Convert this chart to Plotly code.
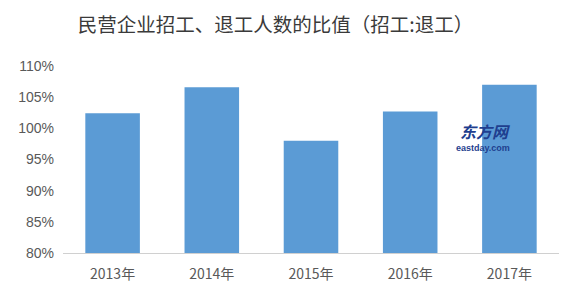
import plotly.graph_objects as go

categories = ["2013年", "2014年", "2015年", "2016年", "2017年"]
ratios = [1.024, 1.066, 0.980, 1.027, 1.070]
tick_vals = [0.80, 0.85, 0.90, 0.95, 1.00, 1.05, 1.10]
tick_text = ["80%", "85%", "90%", "95%", "100%", "105%", "110%"]
title_text = "民营企业招工、退工人数的比值（招工:退工）"

font_cjk = "Noto Sans CJK SC"

fig = go.Figure()
fig.add_trace(go.Bar(
    x=categories, y=ratios,
    marker=dict(color="#5b9bd5", line=dict(width=0)),
    hoverinfo="skip",
))

fig.update_layout(
    width=580, height=297,
    margin=dict(l=63, r=21, t=66, b=44),
    paper_bgcolor="white", plot_bgcolor="white",
    bargap=0.45,
    showlegend=False,
    title=dict(text=title_text, x=0.475, xanchor="center", y=0.915, yanchor="middle",
               font=dict(family=font_cjk, size=19.5, color="#3a3a3a")),
    xaxis=dict(showgrid=False, showline=True, linecolor="#d0d0d0", linewidth=1,
               ticks="", ticklabelstandoff=8,
               tickfont=dict(family=font_cjk, size=14, color="#595959")),
    yaxis=dict(range=[0.80, 1.10], tickvals=tick_vals, ticktext=tick_text,
               showgrid=False, zeroline=False, showline=False, ticks="",
               ticklabelstandoff=8,
               tickfont=dict(family="Liberation Sans", size=14, color="#595959")),
)

fig.add_annotation(text="<b><i>东方网</i></b>", xref="paper", yref="paper",
                   x=0.905, y=0.655, showarrow=False,
                   font=dict(family=font_cjk, size=16, color="#1f3f8f"))
fig.add_annotation(text="<b>eastday.com</b>", xref="paper", yref="paper",
                   x=0.905, y=0.56, showarrow=False,
                   font=dict(family="Liberation Sans", size=9, color="#1f3f8f"))

fig.write_html("out.html")
